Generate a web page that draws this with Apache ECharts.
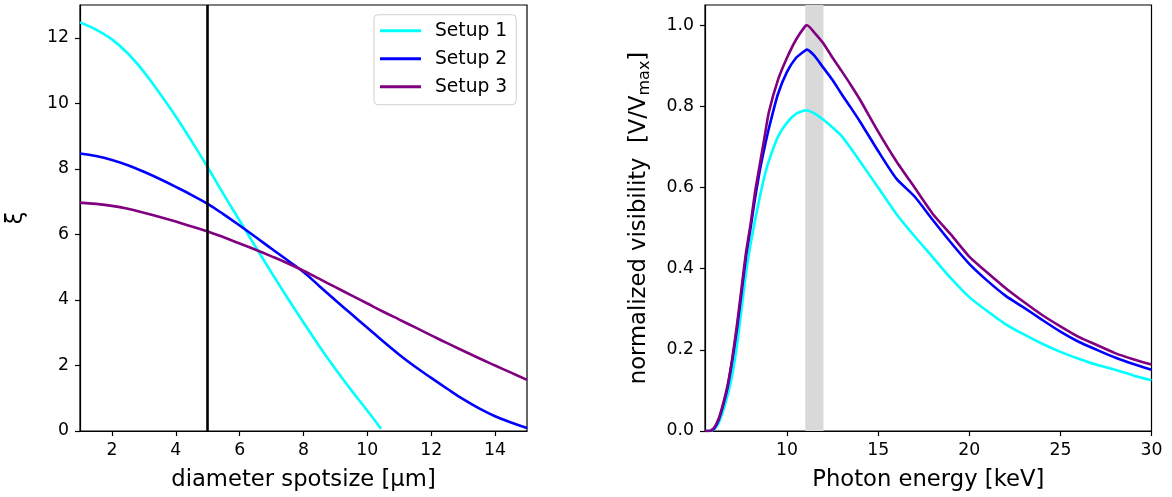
<!DOCTYPE html>
<html>
<head>
<meta charset="utf-8">
<script src="https://cdn.jsdelivr.net/npm/echarts@6/dist/echarts.min.js"></script>
<style>
  html, body { margin: 0; padding: 0; background: #fff; }
  #chart { width: 1172px; height: 497px; }
</style>
</head>
<body>
<div id="chart"></div>
<script>
// ---------------- DATA ----------------
const seriesNames = ['Setup 1', 'Setup 2', 'Setup 3'];
const seriesColors = ['#00ffff', '#0000ff', '#800080'];

// Left panel: xi vs diameter spotsize
const spotX = [1, 1.5, 2, 2.5, 3, 3.5, 4, 4.5, 5, 5.5, 6, 6.5, 7, 7.5, 8, 8.5, 9, 9.5, 10, 10.5, 11, 11.5, 12, 12.5, 13, 13.5, 14, 14.5, 15];
const spotX1 = [1, 1.5, 2, 2.5, 3, 3.5, 4, 4.5, 5, 5.5, 6, 6.5, 7, 7.5, 8, 8.5, 9, 9.5, 10, 10.43];
const xiSetup1 = [12.47, 12.25, 11.95, 11.52, 10.96, 10.30, 9.60, 8.84, 8.05, 7.22, 6.42, 5.62, 4.83, 4.06, 3.31, 2.58, 1.89, 1.24, 0.62, 0.07];
const xiSetup2 = [8.47, 8.39, 8.27, 8.11, 7.91, 7.69, 7.45, 7.20, 6.93, 6.61, 6.27, 5.92, 5.56, 5.21, 4.85, 4.42, 3.99, 3.57, 3.15, 2.73, 2.33, 1.96, 1.62, 1.29, 0.97, 0.69, 0.45, 0.26, 0.09];
const xiSetup3 = [6.97, 6.93, 6.87, 6.78, 6.66, 6.53, 6.39, 6.24, 6.09, 5.91, 5.72, 5.53, 5.33, 5.12, 4.89, 4.64, 4.39, 4.14, 3.89, 3.64, 3.40, 3.16, 2.92, 2.68, 2.45, 2.22, 2.00, 1.78, 1.56];
const spotMarkX = 5;
const spotTicks = [2, 4, 6, 8, 10, 12, 14];
const xiTicks = [0, 2, 4, 6, 8, 10, 12];

// Right panel: normalized visibility vs photon energy
const energyX = [5.5, 5.75, 6, 6.25, 6.5, 6.75, 7, 7.25, 7.5, 7.75, 8, 8.25, 8.5, 8.75, 9, 9.5, 10, 10.5, 11, 11.1, 11.5, 12, 12.5, 13, 13.5, 14, 15, 16, 17, 18, 19, 20, 21, 22, 23, 24, 25, 26, 27, 28, 29, 30];
const visSetup1 = [0, 0, 0.004, 0.02, 0.05, 0.09, 0.14, 0.21, 0.30, 0.39, 0.46, 0.52, 0.575, 0.625, 0.665, 0.725, 0.76, 0.782, 0.79, 0.79, 0.783, 0.767, 0.748, 0.727, 0.697, 0.665, 0.60, 0.535, 0.48, 0.428, 0.376, 0.33, 0.295, 0.263, 0.238, 0.215, 0.195, 0.178, 0.163, 0.151, 0.137, 0.125];
const visSetup2 = [0, 0, 0.006, 0.027, 0.064, 0.11, 0.175, 0.25, 0.34, 0.43, 0.50, 0.575, 0.64, 0.695, 0.745, 0.83, 0.885, 0.92, 0.938, 0.94, 0.925, 0.895, 0.865, 0.83, 0.797, 0.763, 0.69, 0.622, 0.578, 0.52, 0.464, 0.412, 0.37, 0.333, 0.304, 0.274, 0.245, 0.22, 0.20, 0.181, 0.165, 0.151];
const visSetup3 = [0, 0, 0.008, 0.03, 0.068, 0.115, 0.18, 0.26, 0.35, 0.44, 0.51, 0.59, 0.655, 0.72, 0.785, 0.865, 0.92, 0.965, 0.998, 1.0, 0.982, 0.955, 0.92, 0.887, 0.853, 0.817, 0.738, 0.665, 0.60, 0.535, 0.484, 0.43, 0.39, 0.352, 0.318, 0.286, 0.258, 0.232, 0.212, 0.192, 0.177, 0.164];
const bandRange = [11, 12];
const energyTicks = [10, 15, 20, 25, 30];
const visTicks = [0, 0.2, 0.4, 0.6, 0.8, 1.0];

// ---------------- CHART ----------------
const FONT = 'DejaVu Sans';
const pair = (xs, ys) => xs.map((x, i) => [x, ys[i]]);

function axisCommon(ticks, fmt) {
  return {
    type: 'value',
    splitLine: { show: false },
    axisLine: { show: true, onZero: false, lineStyle: { color: '#000', width: 1.2 } },
    axisTick: { show: true, inside: false, length: 5, lineStyle: { color: '#000', width: 1.2 }, customValues: ticks },
    axisLabel: { color: '#000', fontSize: 17.3, fontFamily: FONT, margin: 11, customValues: ticks, formatter: fmt }
  };
}

const chart = echarts.init(document.getElementById('chart'), null, { renderer: 'canvas' });

const leftData = [pair(spotX1, xiSetup1), pair(spotX, xiSetup2), pair(spotX, xiSetup3)];
const rightData = [pair(energyX, visSetup1), pair(energyX, visSetup2), pair(energyX, visSetup3)];

const series = [];
leftData.forEach((d, i) => {
  series.push({
    name: seriesNames[i], type: 'line', xAxisIndex: 0, yAxisIndex: 0,
    data: d, showSymbol: false, symbol: 'none', smooth: 0.4,
    lineStyle: { color: seriesColors[i], width: 2.6 }, itemStyle: { color: seriesColors[i] },
    z: 3,
    markLine: i === 0 ? {
      silent: true, symbol: 'none', label: { show: false },
      lineStyle: { color: '#000', width: 2.6, type: 'solid' },
      data: [{ xAxis: spotMarkX }]
    } : undefined
  });
});
rightData.forEach((d, i) => {
  series.push({
    name: seriesNames[i], type: 'line', xAxisIndex: 1, yAxisIndex: 1,
    data: d, showSymbol: false, symbol: 'none', smooth: 0.2,
    lineStyle: { color: seriesColors[i], width: 2.6 }, itemStyle: { color: seriesColors[i] },
    z: 3,
    markArea: i === 0 ? {
      silent: true, itemStyle: { color: '#d9d9d9' },
      data: [[{ xAxis: bandRange[0] }, { xAxis: bandRange[1] }]]
    } : undefined
  });
});

const option = {
  animation: false,
  backgroundColor: '#fff',
  grid: [
    { left: 80, top: 5, width: 447, height: 426, show: true, borderColor: '#000', borderWidth: 1.2, backgroundColor: 'transparent' },
    { left: 705, top: 5, width: 446.5, height: 426, show: true, borderColor: '#000', borderWidth: 1.2, backgroundColor: 'transparent' }
  ],
  xAxis: [
    Object.assign(axisCommon(spotTicks, v => String(v)), {
      gridIndex: 0, min: 1, max: 15,
      name: 'diameter spotsize [µm]', nameLocation: 'middle', nameGap: 38,
      nameTextStyle: { color: '#000', fontSize: 22.7, fontFamily: FONT }
    }),
    Object.assign(axisCommon(energyTicks, v => String(v)), {
      gridIndex: 1, min: 5.5, max: 30,
      name: 'Photon energy [keV]', nameLocation: 'middle', nameGap: 38,
      nameTextStyle: { color: '#000', fontSize: 22.7, fontFamily: FONT }
    })
  ],
  yAxis: [
    Object.assign(axisCommon(xiTicks, v => String(v)), {
      gridIndex: 0, min: 0, max: 13,
      name: 'ξ', nameLocation: 'middle', nameGap: 52, nameRotate: 90,
      nameTextStyle: { color: '#000', fontSize: 22.7, fontFamily: FONT }
    }),
    Object.assign(axisCommon(visTicks, v => v.toFixed(1)), {
      gridIndex: 1, min: 0, max: 1.05,
      name: '{n|normalized visibility  [V/V}{s|max}{n|]}', nameLocation: 'middle', nameGap: 52, nameRotate: 90,
      nameTextStyle: {
        color: '#000', fontSize: 22.7, fontFamily: FONT,
        rich: {
          n: { fontSize: 22.7, fontFamily: FONT, color: '#000', lineHeight: 28 },
          s: { fontSize: 16, fontFamily: FONT, color: '#000', lineHeight: 16, verticalAlign: 'bottom' }
        }
      }
    })
  ],
  legend: {
    data: seriesNames,
    orient: 'vertical',
    left: 374, top: 14.7,
    padding: [6, 9, 8, 6],
    itemWidth: 41, itemHeight: 3, itemGap: 8,
    icon: 'rect',
    backgroundColor: '#fff',
    borderColor: '#d0d0d0', borderWidth: 1, borderRadius: 4,
    textStyle: { color: '#000', fontSize: 18.7, fontFamily: FONT, lineHeight: 20, padding: [0, 0, 0, 9] }
  },
  series: series
};
chart.setOption(option);
</script>
</body>
</html>
